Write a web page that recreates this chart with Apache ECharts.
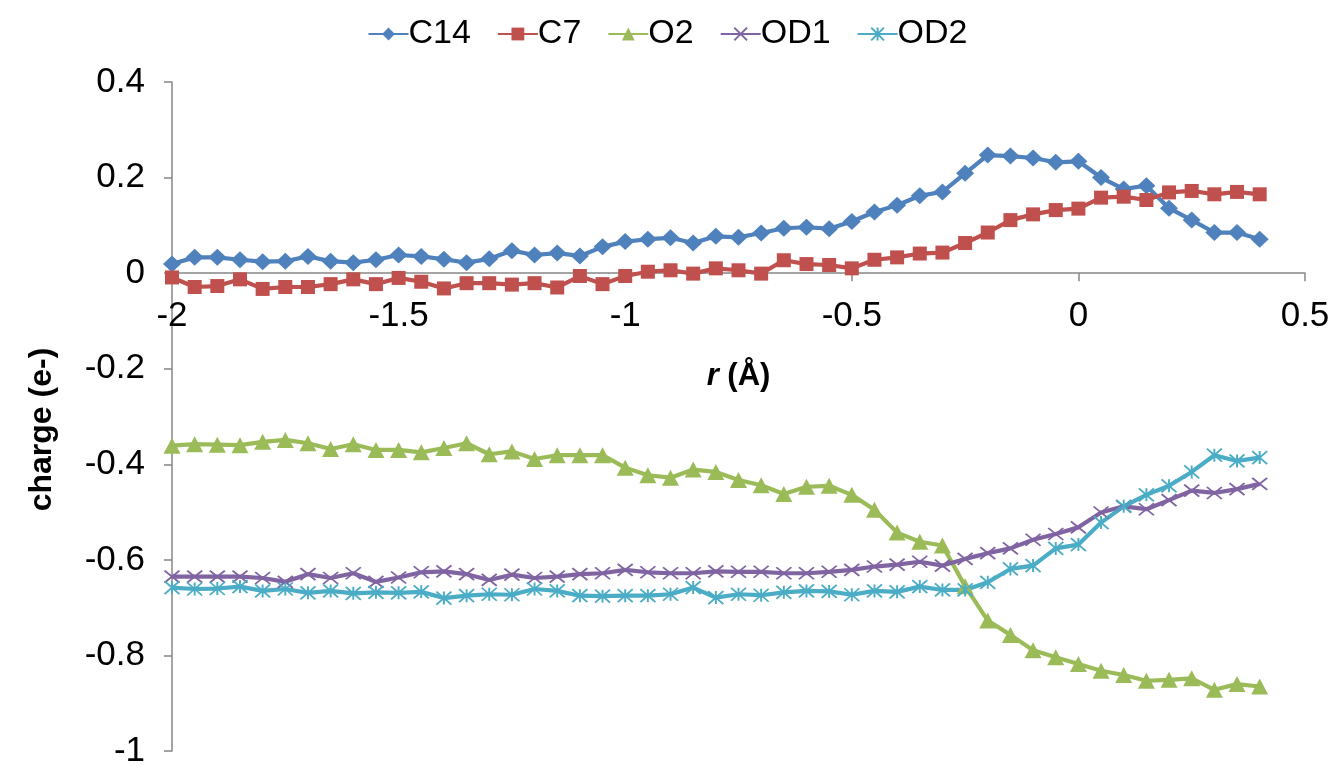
<!DOCTYPE html>
<html>
<head>
<meta charset="utf-8">
<title>Atomic charges along r</title>
<script src="https://cdn.jsdelivr.net/npm/echarts@6/dist/echarts.min.js"></script>
<style>
  html, body { margin: 0; padding: 0; background: #ffffff; }
  #chart { width: 1335px; height: 766px; }
</style>
</head>
<body>
<div id="chart"></div>
<script>
// Reaction coordinate r (Å), -2 … 0.4 in steps of 0.05
const rValues = [
  -2.00, -1.95, -1.90, -1.85, -1.80, -1.75, -1.70, -1.65, -1.60, -1.55,
  -1.50, -1.45, -1.40, -1.35, -1.30, -1.25, -1.20, -1.15, -1.10, -1.05,
  -1.00, -0.95, -0.90, -0.85, -0.80, -0.75, -0.70, -0.65, -0.60, -0.55,
  -0.50, -0.45, -0.40, -0.35, -0.30, -0.25, -0.20, -0.15, -0.10, -0.05,
   0.00,  0.05,  0.10,  0.15,  0.20,  0.25,  0.30,  0.35,  0.40
];

// Charges (e-) for each atom
const c14 = [
  0.019, 0.033, 0.033, 0.028, 0.024, 0.025, 0.035, 0.025, 0.022, 0.028,
  0.038, 0.035, 0.029, 0.022, 0.030, 0.047, 0.038, 0.042, 0.036, 0.055,
  0.066, 0.071, 0.074, 0.063, 0.077, 0.075, 0.084, 0.094, 0.096, 0.093,
  0.108, 0.128, 0.142, 0.162, 0.170, 0.209, 0.247, 0.245, 0.241, 0.232,
  0.234, 0.200, 0.176, 0.183, 0.136, 0.111, 0.085, 0.085, 0.071
];
const c7 = [
  -0.009, -0.029, -0.027, -0.013, -0.033, -0.029, -0.029, -0.023, -0.013, -0.023,
  -0.010, -0.018, -0.032, -0.021, -0.021, -0.024, -0.021, -0.030, -0.006, -0.023,
  -0.006,  0.003,  0.006, -0.001,  0.010,  0.006, -0.001,  0.027,  0.019,  0.017,
   0.010,  0.028,  0.033,  0.041,  0.043,  0.063,  0.085,  0.111,  0.123,  0.132,
   0.135,  0.158,  0.160,  0.153,  0.169,  0.172,  0.165,  0.170,  0.165
];
const o2 = [
  -0.361, -0.358, -0.359, -0.360, -0.353, -0.349, -0.356, -0.368, -0.358, -0.370,
  -0.370, -0.375, -0.366, -0.356, -0.379, -0.373, -0.389, -0.381, -0.381, -0.381,
  -0.407, -0.423, -0.428, -0.411, -0.416, -0.433, -0.444, -0.462, -0.447, -0.445,
  -0.464, -0.495, -0.543, -0.562, -0.570, -0.655, -0.727, -0.757, -0.789, -0.804,
  -0.818, -0.832, -0.841, -0.853, -0.851, -0.848, -0.872, -0.860, -0.865
];
const od1 = [
  -0.635, -0.635, -0.635, -0.635, -0.638, -0.646, -0.630, -0.638, -0.628, -0.646,
  -0.637, -0.626, -0.624, -0.630, -0.642, -0.631, -0.638, -0.635, -0.630, -0.628,
  -0.621, -0.626, -0.628, -0.628, -0.624, -0.625, -0.625, -0.628, -0.628, -0.625,
  -0.621, -0.614, -0.610, -0.604, -0.612, -0.598, -0.586, -0.576, -0.558, -0.546,
  -0.532, -0.501, -0.488, -0.494, -0.475, -0.455, -0.460, -0.452, -0.441
];
const od2 = [
  -0.658, -0.661, -0.660, -0.656, -0.665, -0.661, -0.669, -0.665, -0.670, -0.668,
  -0.669, -0.667, -0.680, -0.675, -0.672, -0.673, -0.661, -0.665, -0.675, -0.676,
  -0.675, -0.675, -0.672, -0.658, -0.679, -0.672, -0.674, -0.668, -0.665, -0.666,
  -0.673, -0.665, -0.667, -0.656, -0.663, -0.663, -0.647, -0.619, -0.612, -0.576,
  -0.568, -0.522, -0.488, -0.464, -0.445, -0.416, -0.381, -0.393, -0.386
];

const seriesNames = ['C14', 'C7', 'O2', 'OD1', 'OD2'];
const seriesColors = ['#4F81BD', '#C0504D', '#9BBB59', '#8064A2', '#4BACC6'];

// Open marker shapes drawn as strokes
const crossPath = 'path://M0,0L10,10M10,0L0,10';
const starPath = 'path://M0,0L10,10M10,0L0,10M5,0L5,10';

const FONT = '"Liberation Sans", Arial, sans-serif';
const AXIS_GREY = '#868686';
const yMin = -1, yMax = 0.4;

function pairs(values) {
  return rValues.map((r, i) => [r, values[i]]);
}

function lineSeries(name, values, color, symbol, size, stroked) {
  return {
    name: name,
    type: 'line',
    data: pairs(values),
    symbol: symbol,
    symbolSize: size,
    showAllSymbol: true,
    lineStyle: { color: color, width: 4.2 },
    itemStyle: stroked
      ? { color: 'rgba(0,0,0,0)', borderColor: color, borderWidth: 1.8 }
      : { color: color, borderWidth: 0 },
    emphasis: { disabled: true },
    animation: false
  };
}

const chart = echarts.init(document.getElementById('chart'), null, { renderer: 'canvas' });

const grid = { left: 172, right: 30, top: 82, bottom: 15, containLabel: false, outerBoundsMode: 'none' };

chart.setOption({
  backgroundColor: '#ffffff',
  textStyle: { fontFamily: FONT, color: '#000000' },
  legend: {
    top: 12,
    left: 'center',
    itemWidth: 40,
    itemHeight: 16,
    itemGap: 26,
    textStyle: { fontFamily: FONT, fontSize: 34, color: '#000000', padding: [0, 0, 0, -5] },
    data: seriesNames
  },
  grid: grid,
  xAxis: {
    type: 'value',
    min: -2,
    max: 0.5,
    interval: 0.5,
    name: '{i|r} (Å)',
    nameLocation: 'middle',
    nameGap: 88,
    nameTextStyle: {
      fontFamily: FONT, fontSize: 31, fontWeight: 'bold', color: '#000000',
      rich: { i: { fontFamily: FONT, fontSize: 31, fontWeight: 'bold', fontStyle: 'italic', color: '#000000' } }
    },
    axisLine: { show: true, onZero: false, lineStyle: { color: AXIS_GREY, width: 1.5 } },
    axisTick: { show: true, length: 8, lineStyle: { color: AXIS_GREY, width: 1.5 } },
    axisLabel: { fontFamily: FONT, fontSize: 35, color: '#000000', margin: 26 },
    splitLine: { show: false }
  },
  yAxis: {
    type: 'value',
    min: yMin,
    max: yMax,
    interval: 0.2,
    name: 'charge (e-)',
    nameLocation: 'middle',
    nameRotate: 90,
    nameGap: 114,
    nameTextStyle: { fontFamily: FONT, fontSize: 32, fontWeight: 'bold', color: '#000000', padding: [0, 26, 0, 0] },
    axisLine: { show: true, onZero: false, lineStyle: { color: AXIS_GREY, width: 1.5 } },
    axisTick: { show: true, length: 8, lineStyle: { color: AXIS_GREY, width: 1.5 } },
    axisLabel: { fontFamily: FONT, fontSize: 35, color: '#000000', margin: 27 },
    splitLine: { show: false }
  },
  series: [
    lineSeries('C14', c14, seriesColors[0], 'diamond', [18, 17], false),
    lineSeries('C7', c7, seriesColors[1], 'rect', [14, 14], false),
    lineSeries('O2', o2, seriesColors[2], 'triangle', [17, 16], false),
    lineSeries('OD1', od1, seriesColors[3], crossPath, [15, 12], true),
    lineSeries('OD2', od2, seriesColors[4], starPath, [15, 13], true)
  ]
});

// Put the category axis on the zero line: shift it up from the grid bottom
// by the plotted distance between y = 0 and y = min.
const zeroPx = chart.convertToPixel({ yAxisIndex: 0 }, 0);
const bottomPx = chart.convertToPixel({ yAxisIndex: 0 }, yMin);
chart.setOption({ xAxis: { offset: zeroPx - bottomPx } });
</script>
</body>
</html>
